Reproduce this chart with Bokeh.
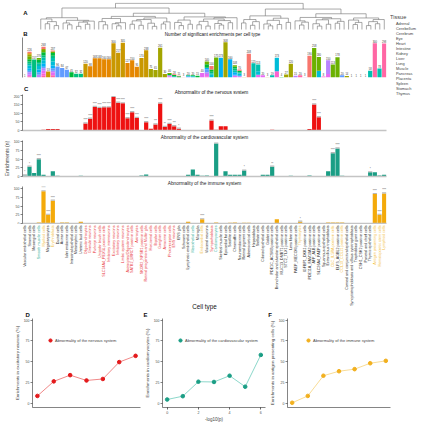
import math
from bokeh.plotting import figure
from bokeh.layouts import column, row
from bokeh.models import (ColumnDataSource, Range1d, Legend, LegendItem, FixedTicker)
from bokeh.core.properties import value
from bokeh.embed import file_html
from bokeh.resources import INLINE

FONT = "Liberation Sans"

# ---------------- data ----------------
cell_types = [
    "Vascular endothelial cells", "Stromal cells", "Mesangial cells", "Smooth muscle cells",
    "Myeloid cells", "Megakaryocytes", "Erythroblasts", "Ductal cells", "Acinar cells",
    "Islet endocrine cells", "Intestinal epithelial cells", "Metanephric cells", "Ureteric bud cells",
    "Oligodendrocytes", "Granule neurons", "Purkinje neurons", "Unipolar brush cells",
    "SLC24A4_PEX5L positive cells", "Inhibitory interneurons", "Excitatory neurons",
    "Inhibitory neurons", "Limbic system neurons", "Astrocytes/Oligodendrocytes",
    "SATB2_LRRC7 positive cells", "Astrocytes", "SKOR2_NPSR1 positive cells",
    "Retinal progenitors and Muller glia", "Horizontal cells", "Bipolar cells", "Ganglion cells",
    "Amacrine cells", "Photoreceptor cells", "ENS neurons", "ENS glia", "Schwann cells",
    "Lymphatic endothelial cells", "Mesothelial cells", "Microglia", "Endocardial cells",
    "Visceral neurons", "Sympathoblasts", "Cardiomyocytes", "Skeletal muscle cells",
    "Epicardial fat cells", "Satellite cells", "Chromaffin cells", "Neuroendocrine cells",
    "Retinal pigment cells", "Adrenocortical cells", "Hepatoblasts", "Stellate cells",
    "Ciliated epithelial cells", "Goblet cells", "PDE1C_ACSM3 positive cells",
    "Bronchiolar and alveolar epithelial cells", "MUC13_DMBT1 positive cells",
    "STC2_TLX1 positive cells", "Lens fibre cells", "PAEP_MECOM positive cells", "Thymocytes",
    "IGFBP1_DKK1 positive cells", "PDE11A_FAM19A2 positive cells", "AFP_ALB positive cells",
    "SLC26A4_PAEP positive cells", "Squamous epithelial cells", "Extravillous trophoblasts",
    "CLC_IL5RA positive cells", "ELF3_AGBL2 positive cells", "CCL19_CCL21 positive cells",
    "Corneal and conjunctival epithelial cells",
    "Syncytiotrophoblasts and villous cytotrophoblasts", "Trophoblast giant cells",
    "CSH1_CSH2 positive cells", "Parietal and chief cells", "Thymic epithelial cells",
    "Antigen presenting cells", "Hematopoietic stem cells", "Lymphoid cells",
]

# label colour group: n = nervous, c = cardiovascular, i = immune
label_group = (["", "", "", "c", "i", "", "i", "", "", "", "", "", ""]
               + ["n"] * 20
               + ["", "", "", "c", "", "i", "", "n", "c"]
               + [""] * 17
               + ["i", "", "", "", "", "", "", "i", "", "i", "", "", "", "", "", "", "i", "i", "i"])

tissues = ["Adrenal", "Cerebellum", "Cerebrum", "Eye", "Heart", "Intestine", "Kidney", "Liver",
           "Lung", "Muscle", "Pancreas", "Placenta", "Spleen", "Stomach", "Thymus"]
tissue_colors = ["#F8766D", "#E58700", "#C99800", "#A3A500", "#6BB100", "#00BA38", "#00BF7D",
                 "#00C0AF", "#00BCD8", "#00B0F6", "#619CFF", "#B983FF", "#E76BF3", "#FD61D1",
                 "#FF67A4"]

composition = [
    {"Lung": 1},
    {"Thymus": 10, "Spleen": 15, "Placenta": 20, "Pancreas": 15, "Muscle": 20, "Lung": 25, "Liver": 15,
     "Kidney": 20, "Intestine": 20, "Heart": 25, "Eye": 15, "Cerebrum": 8, "Cerebellum": 6, "Adrenal": 12},
    {"Kidney": 157},
    {"Placenta": 25, "Pancreas": 20, "Muscle": 25, "Lung": 30, "Liver": 20, "Kidney": 15, "Intestine": 20,
     "Heart": 15},
    {"Thymus": 15, "Stomach": 20, "Spleen": 25, "Placenta": 20, "Pancreas": 15, "Muscle": 25, "Lung": 30,
     "Liver": 25, "Kidney": 20, "Intestine": 25, "Heart": 20, "Eye": 10, "Adrenal": 18},
    {"Cerebrum": 53},
    {"Thymus": 20, "Spleen": 25, "Placenta": 15, "Pancreas": 20, "Muscle": 25, "Lung": 35, "Liver": 30,
     "Kidney": 20, "Intestine": 25, "Heart": 12, "Adrenal": 10},
    {"Pancreas": 96}, {"Pancreas": 84}, {"Pancreas": 67}, {"Intestine": 45},
    {"Kidney": 32}, {"Kidney": 32},
    {"Cerebrum": 120}, {"Cerebellum": 98}, {"Cerebellum": 168}, {"Cerebellum": 168},
    {"Cerebellum": 160}, {"Cerebellum": 160}, {"Cerebrum": 300}, {"Cerebrum": 217},
    {"Cerebrum": 305}, {"Cerebellum": 127}, {"Cerebellum": 150}, {"Cerebellum": 95},
    {"Cerebrum": 170}, {"Cerebrum": 238}, {"Eye": 75}, {"Eye": 65}, {"Eye": 261}, {"Eye": 30},
    {"Spleen": 12, "Placenta": 8, "Intestine": 10, "Heart": 10},
    {"Pancreas": 6, "Kidney": 8, "Intestine": 8, "Adrenal": 6},
    {"Intestine": 10, "Adrenal": 5},
    {"Adrenal": 3},
    {"Pancreas": 8, "Lung": 6, "Kidney": 6},
    {"Lung": 8, "Liver": 6, "Intestine": 6},
    {"Intestine": 15},
    {"Spleen": 40},
    {"Stomach": 10, "Spleen": 20, "Placenta": 15, "Pancreas": 25, "Muscle": 15, "Intestine": 30, "Heart": 25},
    {"Lung": 25, "Liver": 10, "Kidney": 15, "Intestine": 20, "Adrenal": 30},
    {"Heart": 175}, {"Muscle": 173}, {"Eye": 308}, {"Muscle": 160},
    {"Spleen": 15, "Pancreas": 10, "Muscle": 20, "Liver": 18, "Kidney": 15, "Intestine": 15, "Heart": 15},
    {"Spleen": 10, "Muscle": 10, "Lung": 15, "Liver": 10, "Intestine": 15, "Adrenal": 10},
    {"Eye": 3}, {"Adrenal": 208}, {"Liver": 125},
    {"Spleen": 25, "Lung": 30, "Liver": 58},
    {"Spleen": 20}, {"Eye": 3}, {"Liver": 19},
    {"Stomach": 55, "Lung": 118},
    {"Intestine": 4}, {"Eye": 27}, {"Eye": 120}, {"Placenta": 15}, {"Thymus": 20}, {"Placenta": 3},
    {"Adrenal": 190}, {"Heart": 258}, {"Lung": 60, "Heart": 120}, {"Stomach": 8},
    {"Spleen": 30, "Placenta": 120}, {"Heart": 113}, {"Heart": 178}, {"Pancreas": 20}, {"Eye": 14},
    {"Placenta": 1}, {"Placenta": 1}, {"Placenta": 1}, {"Stomach": 1},
    {"Liver": 58}, {"Thymus": 300}, {"Liver": 78}, {"Thymus": 298},
]

nervous = [0, 0, 0, 2, 5, 8, 8, 8, 0, 2, 0, 0, 0,
           40, 68, 135, 130, 133, 133, 192, 160, 156, 70, 105, 72, 3,
           48, 10, 35, 155, 20, 38, 25, 10, 0, 0, 0, 0, 0,
           0, 57, 5, 25, 25, 0, 0, 3, 0, 0, 0, 0, 3,
           0, 5, 0, 0, 2, 0, 0, 0, 0, 8, 150, 76, 0,
           0, 0, 0, 0, 0, 0, 0, 0, 0, 3, 3, 0, 0]
cardio = [3, 28, 10, 50, 5, 0, 15, 2, 0, 0, 0, 0, 2,
          0, 0, 0, 0, 0, 0, 0, 0, 0, 0, 0, 0, 3,
          6, 0, 0, 0, 0, 0, 0, 0, 0, 5, 20, 5, 2,
          3, 0, 95, 0, 15, 5, 5, 5, 17, 0, 0, 0, 5,
          5, 28, 0, 0, 0, 2, 0, 0, 0, 3, 0, 0, 0,
          15, 67, 81, 2, 0, 0, 0, 0, 0, 12, 12, 3, 5]
immune = [0, 0, 0, 3, 93, 25, 66, 0, 3, 3, 0, 0, 5,
          0, 0, 0, 0, 0, 0, 0, 0, 0, 0, 0, 0, 0,
          0, 0, 0, 0, 0, 0, 0, 0, 0, 5, 0, 0, 12,
          0, 0, 3, 0, 0, 2, 3, 0, 2, 2, 0, 0, 0,
          0, 0, 12, 0, 0, 0, 0, 5, 0, 0, 0, 0, 0,
          3, 3, 3, 3, 0, 0, 0, 0, 0, 0, 85, 25, 87]

nervous_sig = {13: "****", 14: "****", 15: "****", 16: "****", 17: "****", 18: "****", 19: "****",
               20: "****", 21: "****", 22: "****", 23: "****", 24: "****", 26: "****", 28: "***",
               29: "****", 30: "**", 31: "****", 32: "***", 33: "*", 40: "****", 62: "****", 63: "****"}
cardio_sig = {0: "*", 1: "*", 3: "****", 41: "****", 47: "*", 53: "**", 66: "****", 67: "****", 74: "*"}
immune_sig = {4: "****", 5: "****", 6: "****", 38: "****", 59: "*", 75: "****", 76: "****", 77: "****"}

# merge height between neighbouring leaves of the dendrogram (ordered like cell_types)
dendro_gaps = [0.40, 0.22, 0.30, 0.15, 0.45, 0.25, 0.18, 0.35, 0.12, 0.28, 0.20, 0.32, 0.82,
               0.30, 0.18, 0.42, 0.22, 0.14, 0.26, 0.50, 0.20, 0.33, 0.16, 0.38, 0.24, 0.12,
               0.44, 0.21, 0.29, 0.62, 0.27, 0.15, 0.36, 0.20, 0.48, 0.18, 0.31, 0.13, 0.40,
               0.23, 0.17, 0.34, 0.26, 0.45, 1.00, 0.25, 0.38, 0.16, 0.30, 0.52, 0.21, 0.14,
               0.35, 0.19, 0.43, 0.27, 0.78, 0.33, 0.17, 0.28, 0.46, 0.22, 0.13, 0.37, 0.20,
               0.41, 0.24, 0.31, 0.60, 0.36, 0.19, 0.27, 0.44, 0.15, 0.30, 0.22, 0.38]

thresholds = [0, 1, 2, 3, 4, 5, 6]
pct_nervous = [8.9, 26.4, 33.9, 27.5, 29.3, 49.6, 57.1]
pct_cardio = [4.6, 8.6, 26.0, 25.7, 33.2, 20.0, 58.2]
pct_immune = [0.7, 8.9, 33.2, 38.6, 41.1, 48.2, 51.1]

# ---------------- layout constants (pixels) ----------------
N = len(cell_types)
xpos = [i + 0.5 for i in range(N)]
group_colors = {"n": "#E8333A", "c": "#2BAE96", "i": "#F2BE3C", "": "#262626"}
TOTAL = 424
LW = 388      # width of the left column
LEFT = 17     # left border of the left column figures
RIGHT = 2
FRAME_W = LW - LEFT - RIGHT
UNIT = FRAME_W / N          # pixels per cell type


def px_to_x(px):
    """horizontal pixel of the left column -> cell-type axis coordinate"""
    return (px - LEFT) / UNIT


def make_fig(width, height, xr, yr, left, right, top, bottom):
    p = figure(width=width, height=height, x_range=xr, y_range=yr,
               output_backend="svg", toolbar_location=None,
               min_border_left=left, min_border_right=right,
               min_border_top=top, min_border_bottom=bottom)
    p.outline_line_color = None
    p.xgrid.visible = False
    p.ygrid.visible = False
    p.background_fill_color = "white"
    p.border_fill_color = "white"
    return p


def put_text(p, x, y, t, size, bold=False, align="center"):
    p.text(x=[x], y=[y], text=[t], text_font=value(FONT), text_font_size=size,
           text_font_style="bold" if bold else "normal", text_align=align,
           text_baseline="middle", text_color="#111111")


def style_yaxis(p, ticks, size="3.5px"):
    ax = p.yaxis[0]
    ax.ticker = FixedTicker(ticks=ticks)
    ax.major_label_text_font_size = size
    ax.major_label_text_font = FONT
    ax.major_label_text_color = "#4D4D4D"
    ax.major_tick_out = 2
    ax.major_tick_in = 0
    ax.minor_tick_line_color = None
    ax.major_label_standoff = 1
    ax.axis_line_width = 0.6
    ax.axis_line_color = "#333333"
    ax.major_tick_line_width = 0.6
    ax.major_tick_line_color = "#333333"


def set_title(p, text, size):
    p.title.text = text
    p.title.text_font = FONT
    p.title.text_font_size = size
    p.title.text_font_style = "normal"
    p.title.text_color = "#1A1A1A"
    p.title.align = "center"
    p.title.standoff = 1


# ---------------- A: dendrogram (+ letter B and panel B title row) ----------------
A_H, A_TOP, DEN_H = 37, 2, 27          # figure height, top border, dendrogram height (px)
H_PER_PX = 1.03 / DEN_H
pa = make_fig(LW, A_H, Range1d(px_to_x(0), N), Range1d(-(A_H - A_TOP - DEN_H) * H_PER_PX, 1.03),
              0, RIGHT, A_TOP, 0)
pa.axis.visible = False
seg = dict(x0=[], y0=[], x1=[], y1=[])


def build(lo, hi):
    if lo == hi:
        return xpos[lo], 0.0
    k = max(range(lo, hi), key=lambda i: dendro_gaps[i])
    h = dendro_gaps[k]
    lx, lh = build(lo, k)
    rx, rh = build(k + 1, hi)
    for a, b, c, d in ((lx, lh, lx, h), (rx, rh, rx, h), (lx, h, rx, h)):
        seg["x0"].append(a); seg["y0"].append(b); seg["x1"].append(c); seg["y1"].append(d)
    return (lx + rx) / 2, h


build(0, N - 1)
pa.segment(x0="x0", y0="y0", x1="x1", y1="y1", source=ColumnDataSource(seg),
           line_color="#6E6E6E", line_width=0.6)


def a_y(px):
    return 1.03 - (px - A_TOP) * H_PER_PX


put_text(pa, px_to_x(3.2), a_y(12.8), "A", "6px", True)
put_text(pa, px_to_x(3.2), a_y(33.3), "B", "6px", True)
put_text(pa, N / 2, a_y(33.8), "Number of significant enrichments per cell type", "4.6px")

# ---------------- B: stacked bars ----------------
pb = make_fig(LW, 43, Range1d(0, N), Range1d(0, 350), LEFT, RIGHT, 0, 3)
bdata = {"x": xpos}
for t in tissues:
    bdata[t] = [c.get(t, 0) for c in composition]
pb.vbar_stack(tissues[::-1], x="x", width=0.9, color=tissue_colors[::-1], line_color=None,
              source=ColumnDataSource(bdata))
totals = [sum(c.values()) for c in composition]
pb.text(x=xpos, y=totals, text=[str(t) for t in totals], text_font=value(FONT),
        text_font_size="2.6px", text_align="center", text_baseline="bottom",
        text_color="#333333", y_offset=-0.3)
pb.xaxis.visible = False
style_yaxis(pb, [])


# ---------------- C: three panels ----------------
def bar_panel(height, top_border, bottom_border, ymax, vals, sig, color, ticks, title, cap):
    p = make_fig(LW, height, Range1d(0, N), Range1d(0, ymax), LEFT, RIGHT, top_border, bottom_border)
    p.vbar(x=xpos, top=vals, width=0.9, color=color, line_color=None)
    sx = [xpos[i] for i in sig]
    sb = [vals[i] for i in sig]
    st = [vals[i] + cap for i in sig]
    p.vbar(x=sx, bottom=sb, top=st, width=0.9, color="#B8B8B8", line_color=None)
    p.text(x=sx, y=st, text=list(sig.values()), text_font=value(FONT), text_font_size="2.6px",
           text_align="center", text_baseline="bottom", text_color="#444444")
    xa = p.xaxis[0]
    xa.ticker = FixedTicker(ticks=[])
    xa.major_tick_out = 0
    xa.major_tick_in = 0
    xa.major_label_standoff = 0
    xa.axis_line_color = "#C4C4C4"
    xa.axis_line_width = 1.6
    style_yaxis(p, ticks)
    if title:
        set_title(p, title, "4.8px")
    return p


# strip holding letter C and the first panel title
sc1 = make_fig(LW, 14, Range1d(0, LW), Range1d(0, 14), 0, 0, 0, 0)
sc1.axis.visible = False
put_text(sc1, 3.9, 14 - 8.4, "C", "6px", True)
put_text(sc1, LEFT + FRAME_W / 2, 14 - 11.6, "Abnormality of the nervous system", "4.8px")

pc1 = bar_panel(38, 0, 2, 207, nervous, nervous_sig, "#EE1111", [0, 50, 100, 150, 200], None, 7)
pc2 = bar_panel(46, 8, 2, 104, cardio, cardio_sig, "#1A9E85", [0, 25, 50, 75, 100],
                "Abnormality of the cardiovascular system", 3.5)
ya2 = pc2.yaxis[0]
ya2.axis_label = "Enrichments (n)"
ya2.axis_label_text_font = FONT
ya2.axis_label_text_font_size = "5px"
ya2.axis_label_text_font_style = "normal"
ya2.axis_label_standoff = 1
pc3 = bar_panel(46, 7, 1, 107, immune, immune_sig, "#F4AA0A", [0, 25, 50, 75, 100],
                "Abnormality of the immune system", 3.5)

# label strip: coloured rotated cell type names, "Cell type", and the letters D, E, F
S_H = 94
ps = make_fig(LW, S_H, Range1d(0, N), Range1d(0, S_H), LEFT, RIGHT, 0, 0)
ps.axis.visible = False
ps.text(x=xpos, y=[S_H] * N, text=cell_types, angle=math.pi / 2, text_align="right",
        text_baseline="middle", text_font=value(FONT), text_font_size="3.7px",
        text_color=[group_colors[g] for g in label_group], y_offset=1)
put_text(ps, N / 2, S_H - 82.3, "Cell type", "6.3px")
for px, ch in ((22.2, "D"), (141.7, "E"), (268.0, "F")):
    put_text(ps, px_to_x(px), S_H - 90.3, ch, "6px", True)

# tissue legend column
pl = figure(width=TOTAL - LW, height=318, x_range=Range1d(0, 1), y_range=Range1d(0, 1),
            output_backend="svg", toolbar_location=None,
            min_border_left=2, min_border_right=0, min_border_top=14, min_border_bottom=0)
pl.outline_line_color = None
pl.axis.visible = False
pl.grid.visible = False
items = []
for t, c in zip(tissues, tissue_colors):
    r = pl.vbar(x=[], top=[], width=1, fill_color=c, line_color=None)
    items.append(LegendItem(label=t, renderers=[r]))
pl.add_layout(Legend(items=items, title="Tissue", location="top_left", margin=0, padding=0,
                     glyph_width=4, glyph_height=4, label_height=4, label_standoff=2, spacing=0,
                     label_text_font=FONT, label_text_font_size="3.9px", title_text_font=FONT,
                     title_text_font_size="5.6px", title_text_font_style="normal",
                     title_standoff=1, border_line_color=None, background_fill_alpha=0))


# ---------------- D/E/F ----------------
def line_panel(width, left, right, ys, lcolor, pcolor, ylabel, legend_text, xticks, xlabel, lx):
    p = make_fig(width, 106, Range1d(-0.3, 6.3), Range1d(-5, 102), left, right, 0, 13)
    p.line(thresholds, ys, line_color=lcolor, line_width=0.9)
    r = p.scatter(thresholds, ys, size=3.6, color=pcolor)
    style_yaxis(p, [0, 25, 50, 75, 100])
    ya = p.yaxis[0]
    ya.axis_label = ylabel
    ya.axis_label_text_font = FONT
    ya.axis_label_text_font_size = "4.4px"
    ya.axis_label_text_font_style = "normal"
    ya.axis_label_standoff = 1
    xa = p.xaxis[0]
    xa.ticker = FixedTicker(ticks=xticks)
    xa.major_label_text_font_size = "3.6px"
    xa.major_label_text_font = FONT
    xa.major_label_text_color = "#4D4D4D"
    xa.major_tick_out = 2
    xa.major_tick_in = 0
    xa.minor_tick_line_color = None
    xa.major_label_standoff = 1
    xa.axis_line_width = 0.6
    xa.axis_line_color = "#333333"
    xa.major_tick_line_width = 0.6
    if xlabel:
        xa.axis_label = xlabel
        xa.axis_label_text_font = FONT
        xa.axis_label_text_font_size = "4.5px"
        xa.axis_label_text_font_style = "normal"
        xa.axis_label_standoff = 0
    p.add_layout(Legend(items=[LegendItem(label=legend_text, renderers=[r])], location=(lx, 63),
                        padding=1, margin=0, glyph_width=8, glyph_height=8, label_height=8,
                        label_standoff=1, label_text_font=FONT, label_text_font_size="4px",
                        border_line_color=None, background_fill_alpha=0))
    return p


pd_ = line_panel(141, 32, 1, pct_nervous, "#EE7B7B", "#E41A1C",
                 "Enrichments in excitatory neurons (%)", "Abnormality of the nervous system",
                 [], None, 14)
pe = line_panel(125, 16, 1, pct_cardio, "#7FD3C4", "#1A9E85",
                "Enrichments in cardiomyocytes (%)", "Abnormality of the cardiovascular system",
                [0, 2, 4, 6], "-log10(p)", 14)
pf = line_panel(158, 14, 34, pct_immune, "#F7D88A", "#F2B01E",
                "Enrichments in antigen presenting cells (%)", "Abnormality of the immune system",
                [], None, 17)

layout = column(row(column(pa, pb, sc1, pc1, pc2, pc3, ps), pl), row(pd_, pe, pf))

open("out.html", "w").write(file_html(layout, INLINE))
